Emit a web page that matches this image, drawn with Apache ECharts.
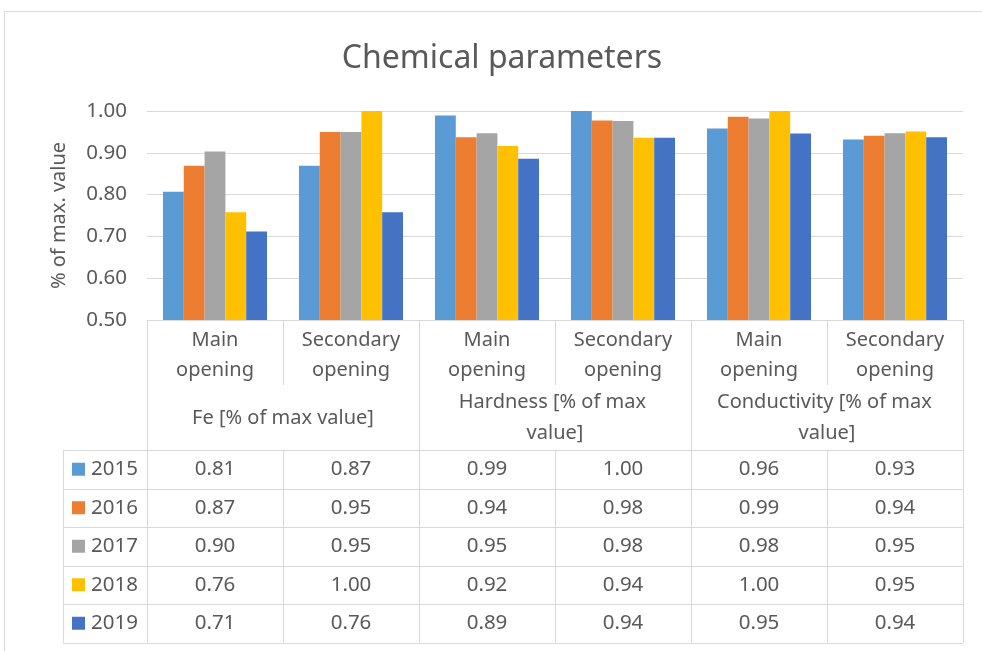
<!DOCTYPE html>
<html>
<head>
<meta charset="utf-8">
<script src="https://cdn.jsdelivr.net/npm/echarts@6/dist/echarts.min.js"></script>
<style>
  html, body { margin: 0; padding: 0; background: #fff; }
  #main { width: 982px; height: 651px; }
</style>
</head>
<body>
<div id="main"></div>
<script>
// data
var categories = ['Main opening', 'Secondary opening', 'Main opening', 'Secondary opening', 'Main opening', 'Secondary opening'];
var groups = ['Fe [% of max value]', 'Hardness [% of max value]', 'Conductivity [% of max value]'];
var years = ['2015', '2016', '2017', '2018', '2019'];
var colors = ['#5B9BD5', '#ED7D31', '#A5A5A5', '#FFC000', '#4472C4'];

var v2015 = [0.807, 0.869, 0.989, 1.000, 0.958, 0.932];
var v2016 = [0.869, 0.950, 0.937, 0.977, 0.986, 0.941];
var v2017 = [0.903, 0.950, 0.947, 0.976, 0.982, 0.947];
var v2018 = [0.758, 1.000, 0.916, 0.936, 1.000, 0.951];
var v2019 = [0.712, 0.758, 0.886, 0.936, 0.946, 0.937];
var values = [v2015, v2016, v2017, v2018, v2019];

var yTicks = [0.5, 0.6, 0.7, 0.8, 0.9, 1.0];

var FONT = 'Noto Sans';
var TXT = '#595959';
var LINE = '#d9d9d9';

var chart = echarts.init(document.getElementById('main'));

var option = {
    animation: false,
    title: {
        text: 'Chemical parameters',
        left: 497,
        top: 38,
        textAlign: 'center',
        textStyle: { fontFamily: FONT, fontSize: 32, fontWeight: 'normal', color: TXT }
    },
    grid: { left: 147, right: 19, top: 111, bottom: 331 },
    xAxis: [
        {
            type: 'category',
            data: categories,
            axisLine: { lineStyle: { color: LINE, width: 1 } },
            axisTick: { show: true, length: 65, lineStyle: { color: LINE } },
            axisLabel: {
                interval: 0, margin: 5, lineHeight: 30,
                fontFamily: FONT, fontSize: 20, color: TXT,
                formatter: function (v) { return v.replace(' ', '\n'); }
            }
        },
        {
            type: 'category',
            data: groups,
            offset: 65,
            position: 'bottom',
            axisLine: { show: false },
            axisTick: { show: true, length: 65, lineStyle: { color: LINE } },
            axisLabel: {
                interval: 0, margin: 33, verticalAlign: 'middle', lineHeight: 31,
                width: 225, overflow: 'break',
                fontFamily: FONT, fontSize: 20, color: TXT
            }
        }
    ],
    yAxis: {
        type: 'value',
        min: yTicks[0],
        max: yTicks[yTicks.length - 1],
        interval: 0.1,
        name: '% of max. value',
        nameLocation: 'middle',
        nameGap: 78,
        nameTextStyle: { fontFamily: FONT, fontSize: 20, color: TXT },
        axisLine: { show: false },
        axisTick: { show: false },
        axisLabel: {
            margin: 20, fontFamily: FONT, fontSize: 20.5, color: TXT,
            formatter: function (v) { return v.toFixed(2); }
        },
        splitLine: { lineStyle: { color: LINE, width: 1 } }
    },
    series: years.map(function (y, i) {
        return {
            name: y,
            type: 'bar',
            data: values[i],
            barGap: 0,
            barCategoryGap: '23.5%',
            itemStyle: { color: colors[i] }
        };
    })
};

chart.setOption(option);

// data table under the axis, placed from the axis scales
var c0 = chart.convertToPixel({ xAxisIndex: 0 }, 0);
var c1 = chart.convertToPixel({ xAxisIndex: 0 }, 1);
var band = c1 - c0;
var left = c0 - band / 2;
var yBase = chart.convertToPixel({ yAxisIndex: 0 }, yTicks[0]);
var tableTop = Math.round(yBase) + 130;
var rowH = 38.5;
var tableLeft = 63;
var right = left + band * categories.length;

var els = [];
// chart frame
els.push({
    type: 'rect', silent: true, z: -1,
    shape: { x: 4.5, y: 11.5, width: 1000, height: 700 },
    style: { fill: null, stroke: LINE, lineWidth: 1 }
});
for (var r = 0; r <= years.length; r++) {
    var yy = Math.round(tableTop + r * rowH) + 0.5;
    els.push({ type: 'line', silent: true, shape: { x1: tableLeft, y1: yy, x2: right, y2: yy }, style: { stroke: LINE, lineWidth: 1 } });
}
var bottomY = tableTop + years.length * rowH;
var vx = [tableLeft];
for (var k = 0; k <= categories.length; k++) vx.push(left + k * band);
vx.forEach(function (x) {
    var xx = Math.round(x) + 0.5;
    els.push({ type: 'line', silent: true, shape: { x1: xx, y1: tableTop, x2: xx, y2: bottomY }, style: { stroke: LINE, lineWidth: 1 } });
});
years.forEach(function (y, i) {
    var cy = tableTop + i * rowH + rowH / 2;
    els.push({ type: 'rect', silent: true, shape: { x: 72, y: cy - 6.5, width: 13, height: 13 }, style: { fill: colors[i] } });
    els.push({ type: 'text', silent: true, style: { text: y, x: 91, y: cy, fill: TXT, fontFamily: FONT, fontSize: 20.5, align: 'left', verticalAlign: 'middle' } });
    values[i].forEach(function (v, j) {
        var cx = chart.convertToPixel({ xAxisIndex: 0 }, j);
        els.push({ type: 'text', silent: true, style: { text: v.toFixed(2), x: cx, y: cy, fill: TXT, fontFamily: FONT, fontSize: 20.5, align: 'center', verticalAlign: 'middle' } });
    });
});
chart.setOption({ graphic: els });
</script>
</body>
</html>
